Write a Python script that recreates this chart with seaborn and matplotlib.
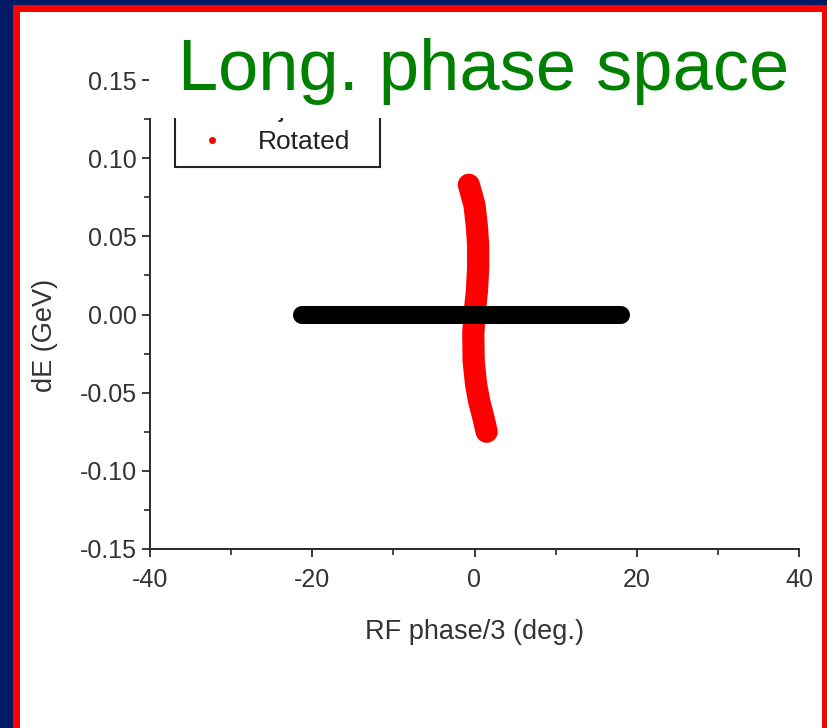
import matplotlib
matplotlib.use('Agg')
import matplotlib.pyplot as plt
from matplotlib.lines import Line2D
from matplotlib.patches import Rectangle
from matplotlib.ticker import MultipleLocator, FormatStrFormatter
import seaborn as sns
import pandas as pd

# centre line of the injected bunch (phase in deg, dE in GeV)
injection_phase = [-21.3, -15.0, -10.0, -5.0, 0.0, 5.0, 10.0, 15.0, 18.1]
injection_de = [0.0, 0.0, 0.0, 0.0, 0.0, 0.0, 0.0, 0.0, 0.0]

# centre line of the rotated bunch
rotated_phase = [-0.7, 0.0, 0.3, 0.45, 0.45, 0.3, 0.0, -0.15, -0.1, 0.2, 0.6, 1.1, 1.5]
rotated_de = [0.083, 0.070, 0.056, 0.044, 0.030, 0.015, 0.000, -0.012, -0.030,
              -0.045, -0.056, -0.066, -0.075]

series_labels = ['Injection', 'Rotated']
series_colors = ['black', 'red']

sns.set_style('ticks')
plt.rcParams['font.family'] = ['Liberation Sans', 'DejaVu Sans']
plt.rcParams['axes.unicode_minus'] = False

W, H = 827, 728
fig = plt.figure(figsize=(W / 100, H / 100), dpi=100, facecolor='#021a64')

# slide frame: navy outside, red border, white page
fig.patches.append(Rectangle((13 / W, 0), 1 - 13 / W, (H - 5) / H, transform=fig.transFigure,
                             facecolor='#ff0000', edgecolor='none', zorder=-3))
fig.patches.append(Rectangle((20 / W, 0), (822 - 20) / W, (H - 12) / H, transform=fig.transFigure,
                             facecolor='white', edgecolor='none', zorder=-2))

ax = fig.add_axes([150 / W, 1 - 549 / H, (799 - 150) / W, (549 - 80) / H])
ax.set_facecolor('none')

rot = pd.DataFrame({'phase': rotated_phase, 'dE': rotated_de})
inj = pd.DataFrame({'phase': injection_phase, 'dE': injection_de})

sns.lineplot(data=rot, x='phase', y='dE', sort=False, estimator=None, ax=ax,
             color=series_colors[1], linewidth=16, solid_capstyle='round',
             solid_joinstyle='round')
sns.lineplot(data=inj, x='phase', y='dE', sort=False, estimator=None, ax=ax,
             color=series_colors[0], linewidth=13, solid_capstyle='round',
             solid_joinstyle='round')

ax.set_xlim(-40, 40)
ax.set_ylim(-0.15, 0.15)
ax.xaxis.set_major_locator(MultipleLocator(20))
ax.xaxis.set_minor_locator(MultipleLocator(10))
ax.yaxis.set_major_locator(MultipleLocator(0.05))
ax.yaxis.set_minor_locator(MultipleLocator(0.025))
ax.yaxis.set_major_formatter(FormatStrFormatter('%.2f'))

for s in ['top', 'right']:
    ax.spines[s].set_visible(False)
for s in ['left', 'bottom']:
    ax.spines[s].set_color('#2a2a2a')
    ax.spines[s].set_linewidth(1.4)

ax.tick_params(which='major', direction='out', length=6, width=1.3, colors='#2a2a2a',
               labelsize=18, labelcolor='#333333')
ax.tick_params(axis='x', which='major', pad=8)
ax.tick_params(which='minor', direction='out', length=4, width=1.2, colors='#2a2a2a')

ax.set_xlabel('RF phase/3 (deg.)', fontsize=19.5, color='#333333')
ax.set_ylabel('dE (GeV)', fontsize=19.5, color='#333333')
ax.xaxis.set_label_coords(0.5, (549 - 632) / 469)
ax.yaxis.set_label_coords((45 - 150) / 649, (549 - 335) / 469)
ax.xaxis.label.set_va('center')
ax.yaxis.label.set_va('center')

handles = [Line2D([], [], marker='o', ls='', color=c, markersize=4) for c in series_colors]
leg = ax.legend(handles, series_labels, loc='lower left', mode='expand',
                bbox_to_anchor=((175 - 150) / 649, (549 - 167) / 469, (380 - 175) / 649, 0),
                fontsize=19, frameon=True, fancybox=False, framealpha=1,
                borderpad=0.5, handlelength=1.8, handletextpad=0.85, labelspacing=0.3,
                borderaxespad=0)
leg.get_frame().set_edgecolor('#222222')
leg.get_frame().set_linewidth(1.5)
for t in leg.get_texts():
    t.set_color('#222222')

# white title block that sits over the top of the plot
fig.patches.append(Rectangle((149 / W, 1 - 118 / H), (822 - 149) / W, (118 - 12) / H,
                             transform=fig.transFigure, facecolor='white',
                             edgecolor='none', zorder=5))
fig.text(178 / W, 1 - 90 / H, 'Long. phase space', color='#008000', fontsize=52,
         ha='left', va='baseline', zorder=6)

fig.savefig('out.png', dpi=100, facecolor=fig.get_facecolor())
